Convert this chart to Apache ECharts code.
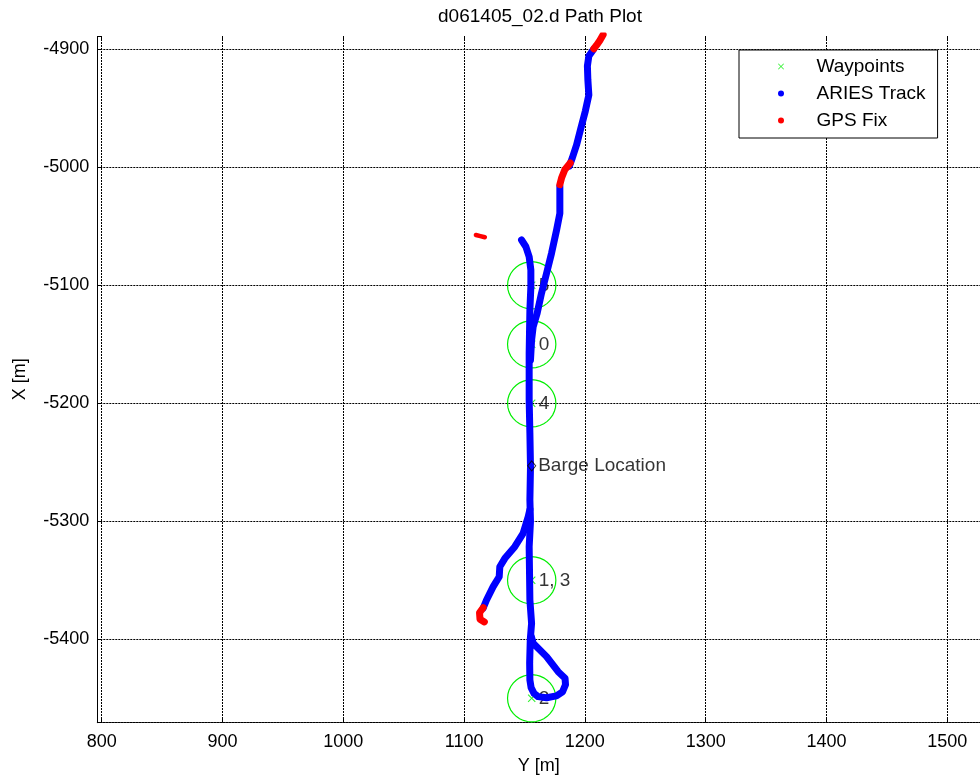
<!DOCTYPE html>
<html>
<head>
<meta charset="utf-8">
<script src="https://cdn.jsdelivr.net/npm/echarts@6/dist/echarts.min.js"></script>
<style>
html,body{margin:0;padding:0;background:#fff;}
#chart{width:980px;height:778px;}
</style>
</head>
<body>
<div id="chart"></div>
<script>
// ---- Data (Y [m] east, X [m] north) ----
const waypointLabels = ['0', '1, 3', '2', '4', '5'];
const waypointY = [1156, 1156, 1156, 1156, 1156];
const waypointX = [-5150, -5350, -5450, -5200, -5100];
const waypointRadius = 20;

const bargeY = 1156;
const bargeX = -5253;

// ARIES track pieces: [Y, X]
const trackDescent = [[1207.4,-4899.7],[1203.3,-4905.7],[1202.1,-4914.2],[1202.5,-4926.0],[1203.3,-4938.7],[1200.4,-4952.3],[1196.7,-4966.7],[1193.1,-4981.1],[1189.6,-4992.1],[1187.2,-4998.9]];
const trackApproach = [[1179.3,-5016.0],[1179.3,-5039.0],[1176.6,-5053.1],[1172.4,-5072.9],[1168.3,-5089.8],[1164.1,-5106.8],[1160.5,-5123.7],[1157.2,-5135.1],[1155.9,-5146.4],[1155.0,-5163.3]];
const trackMain = [[1147.6,-5061.6],[1151.2,-5067.3],[1153.9,-5075.8],[1155.3,-5087.0],[1155.3,-5101.2],[1154.5,-5120.9],[1153.9,-5157.6],[1153.9,-5197.2],[1154.5,-5225.4],[1155.0,-5253.7],[1154.5,-5281.9],[1155.0,-5300.0],[1153.9,-5321.5],[1154.5,-5366.7],[1155.9,-5386.4],[1154.8,-5400.6],[1154.3,-5420.0],[1154.5,-5434.5],[1155.5,-5441.0],[1158.0,-5446.0],[1161.3,-5448.6],[1168.3,-5449.6],[1176.5,-5448.0],[1181.5,-5444.5],[1184.0,-5438.5],[1183.6,-5433.0],[1177.9,-5427.5],[1168.3,-5414.7],[1157.2,-5403.4],[1155.5,-5397.0]];
const trackBranch = [[1154.5,-5290.0],[1153.1,-5296.1],[1148.9,-5310.2],[1142.0,-5321.5],[1133.8,-5331.4],[1129.6,-5338.5],[1129.1,-5347.0],[1124.1,-5355.4],[1118.6,-5366.7],[1115.8,-5373.7]];

// GPS fixes: [Y, X]
const gpsStart = [[1215.1,-4887.6],[1212.4,-4892.5],[1209.7,-4896.5],[1207.4,-4899.5]];
const gpsMid = [[1187.9,-4996.4],[1186.5,-4997.5],[1183.4,-5002.0],[1180.7,-5009.1],[1179.3,-5014.7]];
const gpsIsolated = [[1109.8,-5057.4],[1113.5,-5058.3],[1117.2,-5059.3]];
const gpsEnd = [[1115.8,-5373.2],[1112.8,-5377.5],[1113.2,-5383.0],[1116.8,-5385.3]];

// Axis extents
const yAxisRangeY = [796.4, 1527.1];   // horizontal axis "Y [m]"
const xAxisRangeX = [-5470.7, -4888.7]; // vertical axis "X [m]"

const FONT = 'Liberation Sans, Arial, Helvetica, sans-serif';
const xPath = 'path://M1,0L5,4L9,0L10,1L6,5L10,9L9,10L5,6L1,10L0,9L4,5L0,1Z';

const chart = echarts.init(document.getElementById('chart'), null, {renderer: 'canvas'});

function lineSeries(name, data, color, width) {
  return {
    name: name, type: 'line', data: data, showSymbol: false, symbol: 'none',
    color: color,
    lineStyle: {color: color, width: width, cap: 'round', join: 'round'},
    itemStyle: {color: color},
    silent: true, z: 3, clip: true
  };
}

const gridLine = {show: true, showMinLine: true, showMaxLine: false, lineStyle: {color: '#000', type: [2, 1], width: 1}};
const labelFmt = v => (Math.abs(v % 100) < 1e-6 ? String(v) : '');

const option = {
  animation: false,
  backgroundColor: '#fff',
  textStyle: {fontFamily: FONT},
  title: {
    text: 'd061405_02.d Path Plot',
    left: 540, top: 7, textAlign: 'center', padding: 0,
    textStyle: {fontFamily: FONT, fontSize: 19, fontWeight: 'normal', color: '#000'}
  },
  legend: {
    left: 739, top: 50, orient: 'vertical',
    padding: [7, 12, 8, 39],
    itemWidth: 61, itemHeight: 6, itemGap: 8,
    backgroundColor: '#fff', borderColor: '#000', borderWidth: 1, borderRadius: 0,
    textStyle: {fontFamily: FONT, fontSize: 19, color: '#000'},
    itemStyle: {borderWidth: 0},
    selectedMode: false,
    data: [
      {name: 'Waypoints', icon: xPath},
      {name: 'ARIES Track', icon: 'circle'},
      {name: 'GPS Fix', icon: 'circle'}
    ]
  },
  grid: {left: 97.3, top: 36, right: 0, bottom: 55.3, containLabel: false, outerBoundsMode: 'none'},
  xAxis: [{
    type: 'value', position: 'bottom',
    min: yAxisRangeY[0], max: yAxisRangeY[1], splitNumber: 7,
    name: 'Y [m]', nameLocation: 'middle', nameGap: 34,
    nameTextStyle: {fontFamily: FONT, fontSize: 18, color: '#000'},
    axisLine: {show: true, lineStyle: {color: '#000', type: [2, 1], width: 1}},
    axisTick: {show: true, inside: true, length: 4, lineStyle: {color: '#000'}},
    axisLabel: {formatter: labelFmt, fontFamily: FONT, fontSize: 18, color: '#000', margin: 10, hideOverlap: false},
    splitLine: gridLine
  }, {
    type: 'value', position: 'top',
    min: yAxisRangeY[0], max: yAxisRangeY[1], splitNumber: 7,
    axisLine: {show: false},
    axisTick: {show: true, inside: true, length: 4, lineStyle: {color: '#000'}},
    axisLabel: {show: true, formatter: () => '', hideOverlap: false},
    splitLine: {show: false}
  }],
  yAxis: [{
    type: 'value',
    min: xAxisRangeX[0], max: xAxisRangeX[1], splitNumber: 6,
    name: 'X [m]', nameLocation: 'middle', nameGap: 68, nameRotate: 90,
    nameTextStyle: {fontFamily: FONT, fontSize: 18, color: '#000'},
    axisLine: {show: true, lineStyle: {color: '#000', type: [2, 1], width: 1}},
    axisTick: {show: true, inside: true, length: 4, lineStyle: {color: '#000'}},
    axisLabel: {formatter: labelFmt, fontFamily: FONT, fontSize: 18, color: '#000', margin: 8},
    splitLine: gridLine
  }],
  series: [
    {
      name: 'circles', type: 'custom', silent: true, z: 1,
      data: waypointY.map((y, i) => [y, waypointX[i]]),
      encode: {x: 0, y: 1},
      renderItem: function (params, api) {
        const c = api.coord([api.value(0), api.value(1)]);
        const s = api.size([waypointRadius, waypointRadius]);
        const pts = [];
        for (let i = 0; i <= 36; i++) {
          const a = i / 36 * 2 * Math.PI;
          pts.push([c[0] + s[0] * Math.cos(a), c[1] + s[1] * Math.sin(a)]);
        }
        return {type: 'polyline', shape: {points: pts}, style: {fill: null, stroke: '#00ee00', lineWidth: 1.2}};
      }
    },
    {
      name: 'Waypoints', type: 'scatter', z: 2,
      symbol: xPath, symbolSize: 8,
      color: '#00ff00',
      itemStyle: {color: '#00ee00'},
      data: waypointY.map((y, i) => ({name: waypointLabels[i], value: [y, waypointX[i]]})),
      label: {show: true, position: 'right', distance: 3, formatter: '{b}', fontFamily: FONT, fontSize: 19, color: '#000'}
    },
    lineSeries('ARIES Track', trackDescent, '#0000ff', 7),
    lineSeries('ARIES Track', trackApproach, '#0000ff', 7),
    lineSeries('ARIES Track', trackMain, '#0000ff', 7),
    lineSeries('ARIES Track', trackBranch, '#0000ff', 7),
    lineSeries('GPS Fix', gpsStart, '#ff0000', 7),
    lineSeries('GPS Fix', gpsMid, '#ff0000', 7),
    lineSeries('GPS Fix', gpsIsolated, '#ff0000', 4.5),
    lineSeries('GPS Fix', gpsEnd, '#ff0000', 7),
    {
      name: 'Barge', type: 'scatter', z: 5,
      symbol: 'diamond', symbolSize: [8, 10],
      itemStyle: {color: 'rgba(0,0,0,0)', borderColor: '#000', borderWidth: 1},
      data: [{name: 'Barge Location', value: [bargeY, bargeX]}],
      label: {show: true, position: 'right', distance: 2, formatter: '{b}', fontFamily: FONT, fontSize: 19, color: '#000'}
    }
  ]
};
chart.setOption(option);
</script>
</body>
</html>
